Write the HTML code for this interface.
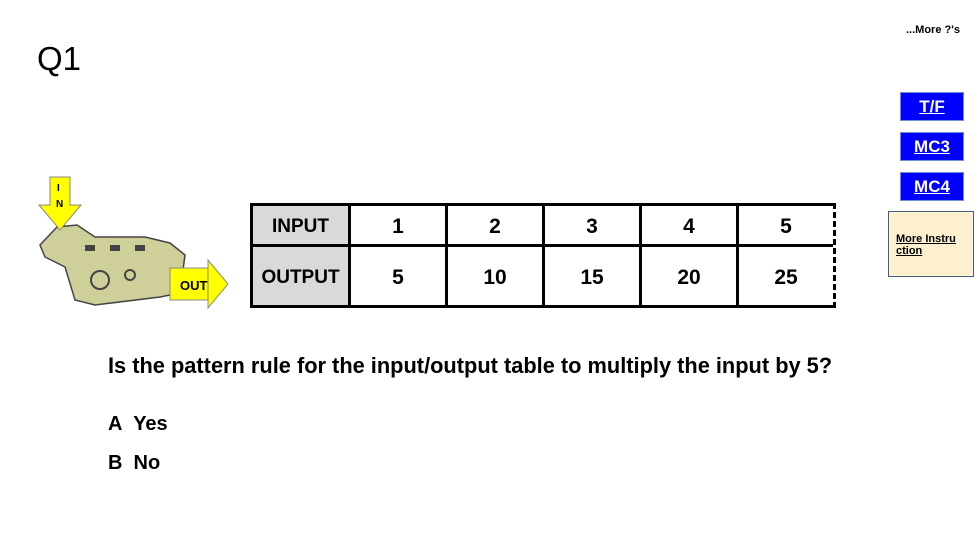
<!DOCTYPE html>
<html><head><style>
body{margin:0;width:978px;height:550px;background:#fff;position:relative;overflow:hidden;font-family:"Liberation Sans",sans-serif}
.a{position:absolute}
.c{position:absolute;border-left:3px solid #000;border-top:3px solid #000;box-sizing:border-box;display:flex;align-items:center;justify-content:center;font-weight:bold;font-size:21px;padding-top:3px}
.btn{position:absolute;left:900px;width:64px;height:29px;background:#0000ff;color:#fff;font-weight:bold;font-size:17px;text-decoration:underline;display:flex;align-items:center;justify-content:center;border:1px solid #6b8fd6;box-sizing:border-box}
</style></head><body>
<div class="a" style="left:37px;top:40px;font-size:33px">Q1</div>
<div class="a" style="left:906px;top:24px;font-size:11px;font-weight:bold">...More ?'s</div>
<div class="btn" style="top:92px">T/F</div>
<div class="btn" style="top:132px">MC3</div>
<div class="btn" style="top:172px">MC4</div>
<div class="a" style="left:888px;top:211px;width:86px;height:66px;background:#fdf0cf;border:1px solid #4a5a8a;box-sizing:border-box;font-size:11px;font-weight:bold;text-decoration:underline;padding:21px 0 0 7px;line-height:12px">More Instru<br>ction</div>

<svg class="a" style="left:35px;top:175px" width="200" height="135">
<polygon points="5,70 22,52 42,50 60,62 110,62 135,68 150,80 145,118 125,122 60,130 40,125 30,92 10,82" fill="#cfcf9a" stroke="#444" stroke-width="1.5"/>
<polygon points="15,2 35,2 35,30 46,30 25,55 4,30 15,30" fill="#ffff00" stroke="#888" stroke-width="1"/>
<text x="22" y="16" font-size="10" font-weight="bold" font-family="Liberation Sans">I</text>
<text x="21" y="32" font-size="10" font-weight="bold" font-family="Liberation Sans">N</text>
<rect x="50" y="70" width="10" height="6" fill="#444"/><rect x="75" y="70" width="10" height="6" fill="#444"/><rect x="100" y="70" width="10" height="6" fill="#444"/>
<circle cx="65" cy="105" r="9" fill="none" stroke="#444" stroke-width="2"/>
<circle cx="95" cy="100" r="5" fill="none" stroke="#444" stroke-width="2"/>
<rect x="135" y="93" width="40" height="32" fill="#ffff00" stroke="#888"/>
<polygon points="173,85 193,109 173,133" fill="#ffff00" stroke="#888"/>
<text x="145" y="115" font-size="13" font-weight="bold" font-family="Liberation Sans">OUT</text>
</svg>

<div class="a" style="left:250px;top:203px;width:586px;height:105px;border-bottom:3px solid #000;border-right:3px dashed #000;box-sizing:border-box"></div>
<div class="c" style="left:250px;top:203px;width:98px;height:41px;background:#d9d9d9;font-size:19px">INPUT</div>
<div class="c" style="left:250px;top:244px;width:98px;height:61px;background:#d9d9d9;font-size:19px">OUTPUT</div>
<div class="c" style="left:348px;top:203px;width:97px;height:41px">1</div>
<div class="c" style="left:445px;top:203px;width:97px;height:41px">2</div>
<div class="c" style="left:542px;top:203px;width:97px;height:41px">3</div>
<div class="c" style="left:639px;top:203px;width:97px;height:41px">4</div>
<div class="c" style="left:736px;top:203px;width:97px;height:41px">5</div>
<div class="c" style="left:348px;top:244px;width:97px;height:61px">5</div>
<div class="c" style="left:445px;top:244px;width:97px;height:61px">10</div>
<div class="c" style="left:542px;top:244px;width:97px;height:61px">15</div>
<div class="c" style="left:639px;top:244px;width:97px;height:61px">20</div>
<div class="c" style="left:736px;top:244px;width:97px;height:61px">25</div>

<div class="a" style="left:108px;top:353px;font-size:21.8px;font-weight:bold;white-space:nowrap">Is the pattern rule for the input/output table to multiply the input by 5?</div>
<div class="a" style="left:108px;top:413px;font-size:20px;font-weight:bold">A&nbsp; Yes</div>
<div class="a" style="left:108px;top:452px;font-size:20px;font-weight:bold">B&nbsp; No</div>
</body></html>
